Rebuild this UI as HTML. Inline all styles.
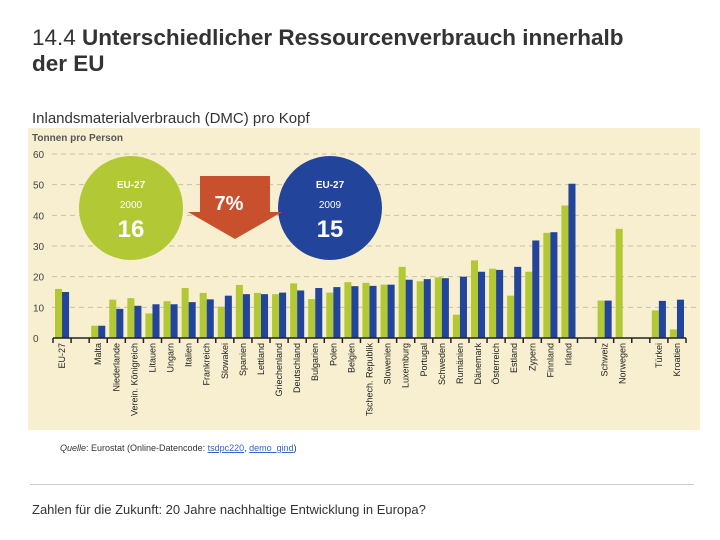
<!DOCTYPE html>
<html><head><meta charset="utf-8"><style>
body{margin:0;width:720px;height:540px;background:#fff;font-family:"Liberation Sans",sans-serif;position:relative;overflow:hidden}
.t{position:absolute;color:#333}
</style></head><body>
<div class="t" style="left:32px;top:25px;width:600px;font-size:22.5px;line-height:26px;color:#333">14.4 <b>Unterschiedlicher Ressourcenverbrauch innerhalb der EU</b></div>
<div class="t" style="left:32px;top:110px;font-size:15px;color:#333">Inlandsmaterialverbrauch (DMC) pro Kopf</div>
<svg id="c" width="720" height="540" style="position:absolute;left:0;top:0"></svg>
<div class="t" style="left:60px;top:443px;font-size:9px"><i>Quelle</i>: Eurostat (Online-Datencode: <u style="color:#36c">tsdpc220</u>, <u style="color:#36c">demo_gind</u>)</div>
<div style="position:absolute;left:30px;top:484px;width:664px;height:1px;background:#ccc"></div>
<div class="t" style="left:32px;top:502px;font-size:13px">Zahlen für die Zukunft: 20 Jahre nachhaltige Entwicklung in Europa?</div>
<script>
const categories=["EU-27","","Malta","Niederlande","Verein. Königreich","Litauen","Ungarn","Italien","Frankreich","Slowakei","Spanien","Lettland","Griechenland","Deutschland","Bulgarien","Polen","Belgien","Tschech. Republik","Slowenien","Luxemburg","Portugal","Schweden","Rumänien","Dänemark","Österreich","Estland","Zypern","Finnland","Irland","","Schweiz","Norwegen","","Türkei","Kroatien"];
const values2000=[16,null,4,12.5,13,8,12,16.3,14.7,10.2,17.3,14.7,14.3,17.8,12.7,14.8,18.2,18,17.4,23.2,18.5,19.8,7.6,25.3,22.6,13.8,21.6,34.3,43.2,null,12.2,35.6,null,9,2.8];
const values2009=[15,null,4,9.5,10.5,11,11,11.7,12.6,13.8,14.3,14.3,14.8,15.5,16.3,16.6,16.9,17,17.4,19,19.2,19.5,20,21.6,22.2,23.2,31.8,34.5,50.3,null,12.2,null,null,12.1,12.5];
const yTicks=[0,10,20,30,40,50,60];
const NS="http://www.w3.org/2000/svg",svg=document.getElementById('c');
const x0=53,x1=686,yb=338,yt=154;
const bw=(x1-x0)/categories.length;
const X=i=>x0+i*bw, Y=v=>yb-(v/60)*(yb-yt);
function mk(t,a,p){const e=document.createElementNS(NS,t);for(const k in a)e.setAttribute(k,a[k]);(p||svg).appendChild(e);return e;}
let e=mk('rect',{x:28,y:128,width:672,height:302,fill:'#f7efcf'});


e=mk('text',{x:32,y:141,'font-size':10,'font-weight':'bold',fill:'#555'});e.textContent='Tonnen pro Person';


yTicks.forEach(v=>{
 if(v>0){const l=mk('line',{x1:52,x2:700,y1:Y(v),y2:Y(v),stroke:'#c8c2ad','stroke-dasharray':'5,4'});
 
 }
 const t=mk('text',{x:33,y:Y(v)+4,'font-size':10,fill:'#444'});t.textContent=v;
 
 
});
e=mk('circle',{cx:131,cy:208,r:52,fill:'#b2c935'});


e=mk('circle',{cx:330,cy:208,r:52,fill:'#22449a'});


e=mk('polygon',{points:'200,176 270,176 270,212 282,212 235,239 188,212 200,212',fill:'#c8502c'});


[[131,188,'EU-27',10,'bold'],[131,208,'2000',10,'normal'],[131,237,'16',24,'bold'],[330,188,'EU-27',10,'bold'],[330,208,'2009',10,'normal'],[330,237,'15',24,'bold'],[229,210,'7%',20,'bold']].forEach(a=>{
 const t=mk('text',{x:a[0],y:a[1],'font-size':a[3],'font-weight':a[4],fill:'#fff','text-anchor':'middle'});t.textContent=a[2];
 
 
});
categories.forEach((c,i)=>{
 const bx=X(i)+2, w=(bw-4)/2;
 if(values2000[i]!=null){const r=mk('rect',{x:bx,y:Y(values2000[i]),width:w,height:yb-Y(values2000[i]),fill:'#b2c935'});
  
  }
 if(values2009[i]!=null){const r=mk('rect',{x:bx+w,y:Y(values2009[i]),width:w,height:yb-Y(values2009[i]),fill:'#22449a'});
  
  }
 if(c){const t=mk('text',{transform:`translate(${X(i)+bw/2+3},343) rotate(-90)`,'font-size':9,fill:'#222','text-anchor':'end'});t.textContent=c;
  
  }
});
for(let i=0;i<=categories.length;i++){const l=mk('line',{x1:X(i),x2:X(i),y1:yb,y2:yb+5,stroke:'#222','stroke-width':1.5});
 
 }
e=mk('line',{x1:x0,x2:x1,y1:yb,y2:yb,stroke:'#222','stroke-width':1.5});


</script>
</body></html>
